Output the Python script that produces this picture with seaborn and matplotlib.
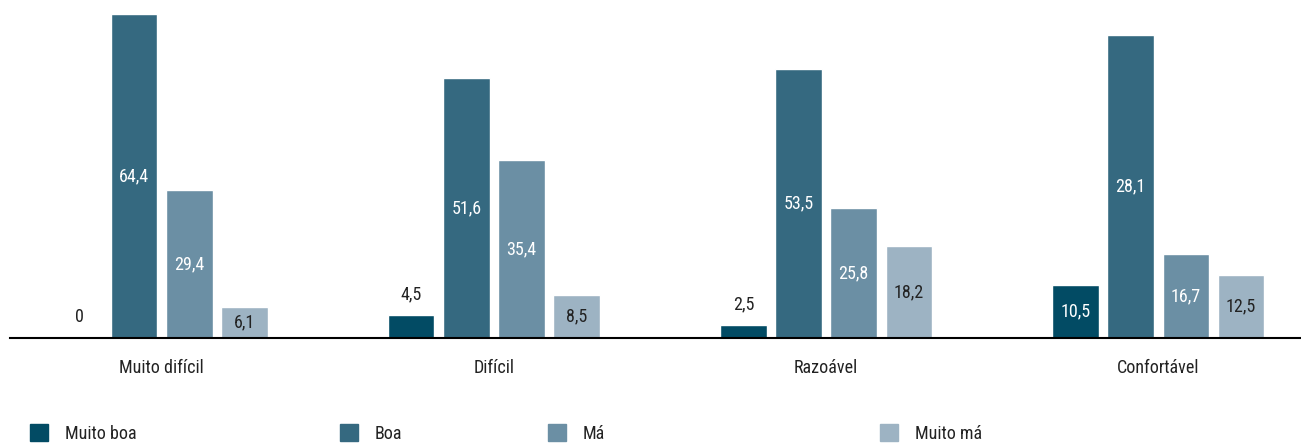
import pandas as pd
import seaborn as sns
import matplotlib.pyplot as plt
from matplotlib import font_manager
from matplotlib.patches import Patch

categories = ['Muito difícil', 'Difícil', 'Razoável', 'Confortável']
series = ['Muito boa', 'Boa', 'Má', 'Muito má']

muito_boa = [0, 4.5, 2.5, 10.5]
boa = [64.4, 51.6, 53.5, 60.3]
ma = [29.4, 35.4, 25.8, 16.7]
muito_ma = [6.1, 8.5, 18.2, 12.5]

# printed labels (the reference prints 28,1 on the Confortável / Boa bar)
muito_boa_labels = ['0', '4,5', '2,5', '10,5']
boa_labels = ['64,4', '51,6', '53,5', '28,1']
ma_labels = ['29,4', '35,4', '25,8', '16,7']
muito_ma_labels = ['6,1', '8,5', '18,2', '12,5']

colors = ['#024b64', '#356980', '#6b8fa4', '#9db3c3']
text_dark = '#222222'

sns.set_theme(style='white')
installed = {f.name for f in font_manager.fontManager.ttflist}
family = 'DejaVu Sans'
for name in ['Liberation Sans Narrow', 'Roboto Condensed', 'Open Sans Condensed', 'DejaVu Sans Condensed']:
    if name in installed:
        family = name
        break
plt.rcParams['font.family'] = [family, 'DejaVu Sans']
if family == 'DejaVu Sans':
    plt.rcParams['font.stretch'] = 'condensed'

df = pd.DataFrame({
    'categoria': categories * 4,
    'serie': [s for s in series for _ in categories],
    'valor': muito_boa + boa + ma + muito_ma,
})
labels = [muito_boa_labels, boa_labels, ma_labels, muito_ma_labels]

fig = plt.figure(figsize=(13.01, 4.45), dpi=100)
ax = fig.add_axes([10 / 1301, 1 - 338 / 445, 1 - 10 / 1301, 338 / 445])

sns.barplot(data=df, x='categoria', y='valor', hue='serie', order=categories,
            hue_order=series, palette=colors, width=0.664, gap=0.16,
            saturation=1, legend=False, ax=ax)

for i, cont in enumerate(ax.containers):
    for j, bar in enumerate(cont):
        h = bar.get_height()
        x = bar.get_x() + bar.get_width() / 2
        txt = labels[i][j]
        if h < 6:
            ax.annotate(txt, (x, h), xytext=(0, 9), textcoords='offset points',
                        ha='center', va='bottom', fontsize=13, color=text_dark)
        else:
            col = text_dark if i == 3 else 'white'
            ax.text(x, h / 2, txt, ha='center', va='center', fontsize=13, color=col)

ax.set_xlim(-0.457, 3.43)
ax.set_ylim(0, 67.2)
ax.set_xlabel('')
ax.set_ylabel('')
ax.set_yticks([])
ax.tick_params(axis='x', length=0, pad=15, labelsize=13, labelcolor=text_dark)
for side in ['top', 'right', 'left']:
    ax.spines[side].set_visible(False)
ax.spines['bottom'].set_color('black')
ax.spines['bottom'].set_linewidth(1.5)

legend_x = [14, 324, 532, 864]
for s, c, lx in zip(series, colors, legend_x):
    fig.legend(handles=[Patch(color=c, label=s)], loc='lower left',
               bbox_to_anchor=(lx / 1301, -14 / 445), frameon=False,
               fontsize=13, handlelength=1.0, handleheight=1.1, handletextpad=0.9,
               labelcolor=text_dark)

fig.savefig('out.png', dpi=100)
